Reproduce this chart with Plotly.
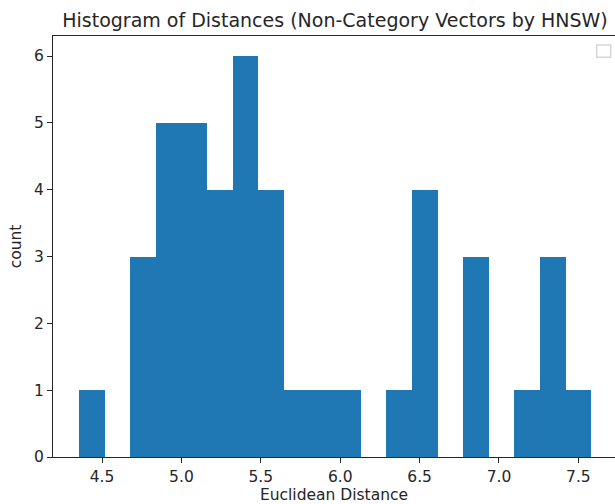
import plotly.graph_objects as go

# Histogram data
bin_left = 4.3551          # left edge of first bin
bin_width = 0.16131        # width of each bin
counts = [1, 0, 3, 5, 5, 4, 6, 4, 1, 1, 1, 0, 1, 4, 0, 3, 0, 1, 3, 1]

x_tick_vals = [4.5, 5.0, 5.5, 6.0, 6.5, 7.0, 7.5]
x_tick_text = ["4.5", "5.0", "5.5", "6.0", "6.5", "7.0", "7.5"]
y_tick_vals = [0, 1, 2, 3, 4, 5, 6]

centers = [bin_left + bin_width * (i + 0.5) for i in range(len(counts))]

fig = go.Figure()
fig.add_trace(go.Bar(
    x=centers,
    y=counts,
    width=[bin_width] * len(counts),
    marker=dict(color="#1f77b4", line=dict(width=0)),
    showlegend=False,
))

W, H = 615, 504
ml, mt, mb = 53, 36, 47
mr = 0

FS = 15.5
txt = "#262626"

fig.update_layout(
    width=W, height=H,
    margin=dict(l=ml, r=mr, t=mt, b=mb, pad=0),
    paper_bgcolor="white",
    plot_bgcolor="white",
    bargap=0,
    font=dict(family="DejaVu Sans", size=FS, color=txt),
    title=dict(
        text="Histogram of Distances (Non-Category Vectors by HNSW)",
        x=(ml + 617) / 2 / W, xanchor="center",
        y=1 - 20 / H, yanchor="middle",
        yref="container", xref="container",
        font=dict(family="DejaVu Sans", size=19, color=txt),
    ),
    xaxis=dict(
        range=[4.1912, 7.7306],
        tickvals=x_tick_vals, ticktext=x_tick_text,
        showgrid=False, zeroline=False,
        showline=True, linecolor=txt, linewidth=1.1, mirror=True,
        ticks="outside", ticklen=5, tickwidth=1.1, tickcolor=txt,
        tickfont=dict(size=FS, family="DejaVu Sans", color=txt),
        title=dict(text="Euclidean Distance", standoff=4,
                   font=dict(size=FS, family="DejaVu Sans", color=txt)),
    ),
    yaxis=dict(
        range=[0, 6.3],
        tickvals=y_tick_vals,
        showgrid=False, zeroline=False,
        showline=True, linecolor=txt, linewidth=1.1, mirror=False,
        ticks="outside", ticklen=5, tickwidth=1.1, tickcolor=txt,
        tickfont=dict(size=FS, family="DejaVu Sans", color=txt),
        title=dict(text="count", standoff=8,
                   font=dict(size=FS, family="DejaVu Sans", color=txt)),
    ),
)

# empty legend frame (as in the reference)
fig.add_shape(
    type="rect", xref="paper", yref="paper",
    x0=0.9674, x1=0.9923, y0=0.9494, y1=0.9786,
    line=dict(color="#d6d6d6", width=1.5),
    fillcolor="rgba(255,255,255,0.8)",
)

fig.write_html("out.html")
